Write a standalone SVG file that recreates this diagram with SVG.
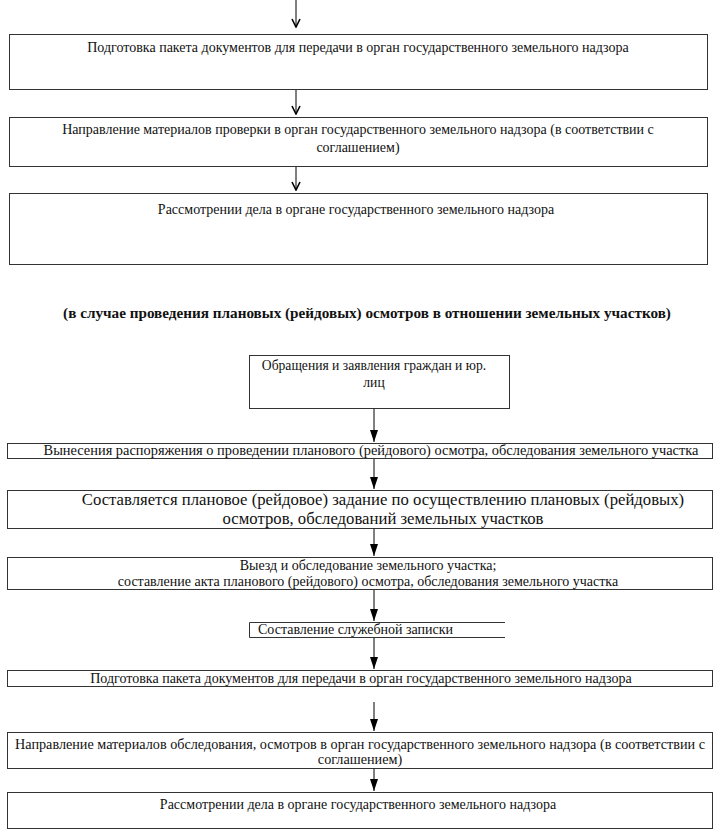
<svg xmlns="http://www.w3.org/2000/svg" width="721" height="838" viewBox="0 0 721 838">
<defs>
<marker id="open" viewBox="0 0 10 10" refX="9" refY="5" markerWidth="10" markerHeight="10" markerUnits="userSpaceOnUse" orient="auto">
<path d="M1,1 L9,5 L1,9" fill="none" stroke="#000" stroke-width="1.6"/>
</marker>
<marker id="solid" viewBox="0 0 12 8" refX="12" refY="4" markerWidth="12" markerHeight="8" markerUnits="userSpaceOnUse" orient="auto">
<path d="M0,0 L12,4 L0,8 Z" fill="#000"/>
</marker>
<style>
.b{fill:#fff;stroke:#333;stroke-width:1}
.t{font-family:"Liberation Serif","Times New Roman",serif;font-size:14px;fill:#111;text-anchor:middle}
.big{font-size:16.7px}
.h{font-family:"Liberation Serif","Times New Roman",serif;font-size:15.2px;font-weight:bold;fill:#111;text-anchor:middle}
.c{stroke:#000;stroke-width:1;fill:none}
</style>
</defs>
<g id="connectors">
<line class="c" x1="296" y1="0" x2="296" y2="27" marker-end="url(#open)"/>
<line class="c" x1="296" y1="80" x2="296" y2="114" marker-end="url(#open)"/>
<line class="c" x1="296" y1="166" x2="296" y2="190" marker-end="url(#open)"/>
<line class="c" x1="374" y1="408" x2="374" y2="442" marker-end="url(#solid)"/>
<line class="c" x1="374" y1="458" x2="374" y2="489" marker-end="url(#solid)"/>
<line class="c" x1="374" y1="528" x2="374" y2="556" marker-end="url(#solid)"/>
<line class="c" x1="374" y1="589" x2="374" y2="621" marker-end="url(#solid)"/>
<line class="c" x1="374" y1="637" x2="374" y2="669" marker-end="url(#solid)"/>
<line class="c" x1="374" y1="702" x2="374" y2="731" marker-end="url(#solid)"/>
<line class="c" x1="374" y1="768" x2="374" y2="791" marker-end="url(#solid)"/>
</g>
<g id="n1"><rect class="b" x="9.5" y="34.5" width="698" height="55"/>
<text class="t" x="358" y="52">Подготовка пакета документов для передачи в орган государственного земельного надзора</text></g>
<g id="n2"><rect class="b" x="9.5" y="117.5" width="698" height="49"/>
<text class="t" x="358" y="134">Направление материалов проверки в орган государственного земельного надзора (в соответствии с</text>
<text class="t" x="358" y="152">соглашением)</text></g>
<g id="n3"><rect class="b" x="9.5" y="193.5" width="698" height="71"/>
<text class="t" x="356" y="214">Рассмотрении дела в органе государственного земельного надзора</text></g>
<g id="heading"><text class="h" x="367" y="318">(в случае проведения плановых (рейдовых) осмотров в отношении земельных участков)</text></g>
<g id="n4"><rect class="b" x="249.5" y="355.5" width="260" height="53"/>
<text class="t" x="374" y="370" style="font-size:13.6px">Обращения и заявления граждан и юр.</text>
<text class="t" x="374" y="387" style="font-size:13.6px">лиц</text></g>
<g id="n5"><rect class="b" x="7.5" y="443.5" width="705" height="15"/>
<text class="t" x="371" y="455" style="font-size:14.4px">Вынесения распоряжения о проведении планового (рейдового) осмотра, обследования земельного участка</text></g>
<g id="n6"><rect class="b" x="7.5" y="490.5" width="705" height="38"/>
<text class="t big" x="383" y="505">Составляется плановое (рейдовое) задание по осуществлению плановых (рейдовых)</text>
<text class="t big" x="383" y="524">осмотров, обследований земельных участков</text></g>
<g id="n7"><rect class="b" x="7.5" y="557.5" width="705" height="32"/>
<text class="t" x="368" y="570">Выезд и обследование земельного участка;</text>
<text class="t" x="368" y="586">составление акта планового (рейдового) осмотра, обследования земельного участка</text></g>
<g id="n8"><path class="b" d="M505,622.5 H249.5 V637.5 H505" fill="none"/>
<text class="t" x="258" y="634" style="text-anchor:start">Составление служебной записки</text></g>
<g id="n9"><rect class="b" x="7.5" y="670.5" width="705" height="16"/>
<text class="t" x="361" y="683">Подготовка пакета документов для передачи в орган государственного земельного надзора</text></g>
<g id="n10"><rect class="b" x="7.5" y="732.5" width="705" height="36"/>
<text class="t" x="360" y="749" style="font-size:14.2px">Направление материалов обследования, осмотров в орган государственного земельного надзора (в соответствии с</text>
<text class="t" x="360" y="764" style="font-size:14.2px">соглашением)</text></g>
<g id="n11"><rect class="b" x="7.5" y="792.5" width="705" height="36"/>
<text class="t" x="358" y="809">Рассмотрении дела в органе государственного земельного надзора</text></g>
</svg>
